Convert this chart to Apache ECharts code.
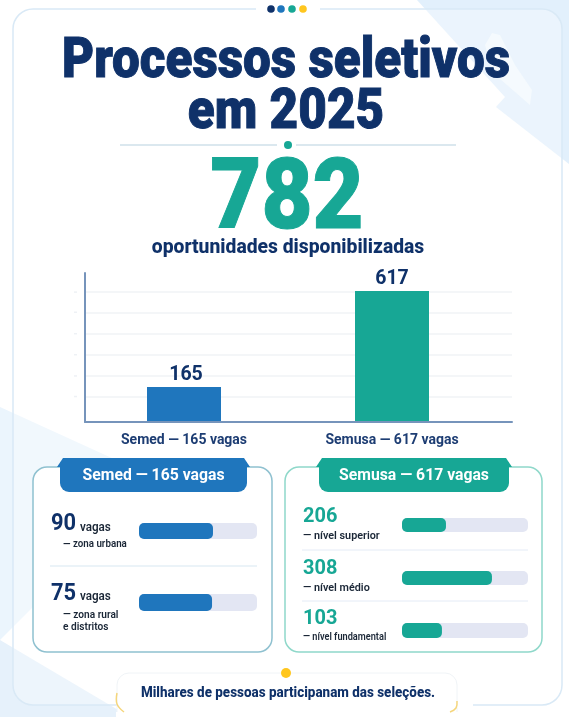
<!DOCTYPE html>
<html><head><meta charset="utf-8">
<style>html,body{margin:0;padding:0;background:#fff}#c{width:569px;height:717px}</style>
<script src="https://cdn.jsdelivr.net/npm/echarts@6/dist/echarts.min.js"></script></head>
<body><div id="c"></div>
<script>
const titleLines = ['Processos seletivos','em 2025'];
const totalText = '782';
const totalCaption = 'oportunidades disponibilizadas';
const categories = ['Semed — 165 vagas','Semusa — 617 vagas'];
const values = [165,617];
const guideValues = [120,217,317,416,517,612];
const semedFill = [0.627,0.619];
const semusaFill = [0.349,0.714,0.317];
const footerText = 'Milhares de pessoas participanam das seleções.';

const NAVY='#0f3169', BLUE='#1f76bd', TEAL='#17a795', YEL='#ffc61e', TRACK='#e3e6f3', INK='#1a2636';
const F='Roboto';
const font=(s,w)=>`${w||700} ${s}px ${F}`;
const g=[];
const T=(text,x,y,size,fill,o={})=>g.push({type:'text',z:5,x,y,scaleX:o.s||1,scaleY:1,
  style:{text,x:0,y:0,font:font(size,o.w),fill,textAlign:o.a||'left',textVerticalAlign:'middle',
    stroke:o.b?fill:'none',lineWidth:o.b||0}});
const R=(x,y,w,h,r,style,z=1)=>g.push({type:'rect',z,shape:{x,y,width:w,height:h,r},style});
const C=(cx,cy,r,fill)=>g.push({type:'circle',z:4,shape:{cx,cy,r},style:{fill}});
const L=(x1,x2,y,stroke,lw=1)=>g.push({type:'line',z:2,shape:{x1,y1:y,x2,y2:y},style:{stroke,lineWidth:lw}});
const P=(points,fill,z=0)=>g.push({type:'polygon',z,shape:{points},style:{fill}});
const Y=(points)=>g.push({type:'polyline',z:3,shape:{points,smooth:0.4},style:{stroke:'#f5d67c',lineWidth:1.5,fill:'none'}});

// background
P([[417,0],[569,0],[569,164],[496,107],[505,97]],'#e2f0fc');
P([[485,45],[492,33],[500,35],[515,65],[532,90],[530,105],[492,72]],'rgba(255,255,255,0.5)');
P([[0,407],[160,480],[0,640]],'#ebf5fd');
P([[0,640],[130,717],[0,717]],'#e6f1fb');
R(13,9,549,696,20,{fill:'rgba(255,255,255,0.3)',stroke:'#d9e9f6',lineWidth:1.5},1);
R(256,2,64,14,0,{fill:'#fff'},2);
R(130,700,343,10,0,{fill:'#fff'},2);
[[271,NAVY],[281,BLUE],[292,TEAL],[303,YEL]].forEach(d=>C(d[0],9,3.8,d[1]));

T(titleLines[0],286,63,56,NAVY,{a:'center',s:0.882,w:900,b:1});
T(titleLines[1],286,114,56,NAVY,{a:'center',s:0.882,w:900,b:1});
L(120,277,145,'#dbe8ef',2); L(296,456,145,'#dbe8ef',2); C(288,145,4,TEAL);
T(totalText,287,203,98,TEAL,{a:'center',s:0.9,w:900,b:1});
T(totalCaption,288,248,20,NAVY,{a:'center',s:0.965,w:800});

// cards
const card=(x,w,border)=>R(x,467,w,185,14,{fill:'#fff',stroke:border,lineWidth:1.5},2);
card(33,239,'#8fc1d0');
card(285,257,'#8fd8ca');
function head(x1,x2,col,text){
  P([[x1-3,467],[x1+3,458],[x2-3,458],[x2+3,467]],col,3);
  R(x1,462,x2-x1,30,[2,2,9,9],{fill:col},3);
  T(text,(x1+x2)/2,476,16.5,'#fff',{a:'center',w:700,s:0.955});
}
head(60,247,BLUE,categories[0]);
head(319,509,TEAL,categories[1]);

T('90',51,524,23,NAVY,{s:0.95}); T('vagas',80,528,12,INK,{w:600,s:0.97});
T('— zona urbana',63,544,10.5,INK,{w:600,s:0.93});
L(50,257,566,'#e4eff6',1.5);
T('75',51,594,23,NAVY,{s:0.95}); T('vagas',80,597,12,INK,{w:600,s:0.97});
T('— zona rural',63,615,11,INK,{w:600,s:0.92});
T('e distritos',63,627,11,INK,{w:600,s:0.92});

T('206',303,517,21,TEAL,{s:0.95}); T('— nível superior',303,536,11.5,INK,{w:600,s:0.94});
L(302,528,550,'#e4ebf6',1);
T('308',303,569,21,TEAL,{s:0.95}); T('— nível médio',303,588,11.5,INK,{w:600,s:0.94});
L(302,528,601,'#e4ebf6',1);
T('103',303,619,21,TEAL,{s:0.95}); T('— nível fundamental',303,637,10,INK,{w:600,s:0.92});

// footer
R(117,673,340,40,[12,12,0,0],{fill:'#fff',stroke:'#f0f4f7',lineWidth:1},2);
R(116,712,342,5,0,{fill:'#fff'},2);
Y([[117,693],[117,704],[124,712]]);
Y([[457,701],[456,708],[450,712]]);
C(286,673,5,YEL);
T(footerText,288,693,14,NAVY,{a:'center',s:0.96,w:800});

// progress grids
const rows=[
 [139,118,523,16,BLUE,semedFill[0],5],
 [139,118,594,17,BLUE,semedFill[1],5],
 [402,126,518,14,TEAL,semusaFill[0],5],
 [402,126,571,14,TEAL,semusaFill[1],5],
 [402,126,623,15,TEAL,semusaFill[2],5]
];
const grids=[
 {left:80,width:416,top:273,height:149},
 {left:85,width:427,top:273,height:149}
];
const xAxes=[
 {gridIndex:0,type:'category',data:categories,axisLine:{show:false},axisTick:{show:false},z:6,
  axisLabel:{color:'#1d3d73',fontFamily:F,fontWeight:700,fontSize:14,margin:11}},
 {gridIndex:1,type:'value',min:0,max:1,axisLabel:{show:false},axisTick:{show:false},splitLine:{show:false},z:6,
  axisLine:{show:true,lineStyle:{color:'#7694bb',width:2}}}
];
const yAxes=[
 {gridIndex:0,type:'value',min:0,max:702,show:false,splitLine:{show:false}},
 {gridIndex:1,type:'value',min:0,max:702,axisLabel:{show:false},axisTick:{show:false},splitLine:{show:false},z:6,
  axisLine:{show:true,lineStyle:{color:'#7694bb',width:2}}}
];
const series=[
 {type:'line',xAxisIndex:1,yAxisIndex:1,data:[],silent:true,z:2,
  markLine:{silent:true,z:2,symbol:'none',label:{show:false},lineStyle:{color:'#f0f3f6',width:1.5,type:'solid'},
   data:guideValues.map(v=>({yAxis:v}))}},
 {type:'bar',xAxisIndex:0,yAxisIndex:0,barWidth:74,z:4,
  data:values.map((v,i)=>({value:v,itemStyle:{color:i?TEAL:BLUE},label:{offset:[i?0:2,0]}})),
  label:{show:true,position:'top',distance:2,color:NAVY,fontFamily:F,fontWeight:700,fontSize:19.5}}
];
rows.forEach((r,i)=>{
  const k=i+2;
  grids.push({left:r[0],width:r[1],top:r[2],height:r[3]});
  xAxes.push({gridIndex:k,type:'value',min:0,max:1,show:false});
  yAxes.push({gridIndex:k,type:'category',data:[''],show:false});
  series.push({type:'bar',xAxisIndex:k,yAxisIndex:k,barWidth:r[3],data:[r[5]],z:4,silent:true,
    showBackground:true,backgroundStyle:{color:TRACK,borderRadius:r[6]},
    itemStyle:{color:r[4],borderRadius:r[6]}});
});

const chart=echarts.init(document.getElementById('c'),null,{renderer:'canvas'});
chart.setOption({animation:false,backgroundColor:'#fff',grid:grids,xAxis:xAxes,yAxis:yAxes,series});
// faint stubs left of the y axis, placed through the axis scale
guideValues.forEach(v=>{
  const y=chart.convertToPixel({yAxisIndex:1},v);
  L(74,77,y,'#eef1f5',1.5);
});
chart.setOption({graphic:{elements:g}});
</script></body></html>
